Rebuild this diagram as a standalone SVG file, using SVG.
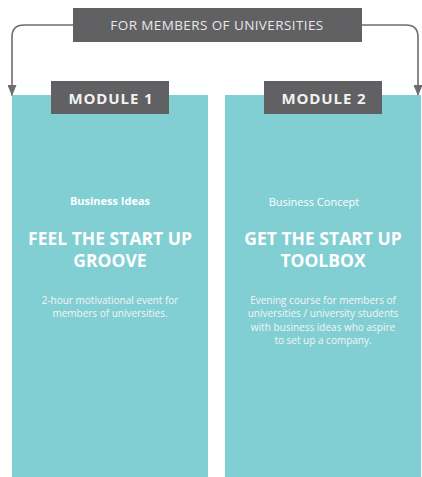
<svg xmlns="http://www.w3.org/2000/svg" width="422" height="477" viewBox="0 0 422 477">
  <defs>
    <style>
      .panel { fill: #82cfd3; }
      .tag { fill: #616163; }
      .conn { fill: none; stroke: #6d6d6f; stroke-width: 1.6; }
      .t { font-family: "Open Sans", "Liberation Sans", sans-serif; fill: #ffffff; text-anchor: middle; }
      .banner-t { font-size: 13.5px; letter-spacing: 0.4px; fill: #e8e8e8; }
      .mod-t { font-size: 15px; font-weight: bold; letter-spacing: 0.9px; fill: #f2f2f2; }
      .sub { font-size: 11px; }
      .title { font-size: 17.5px; font-weight: bold; }
      .body { font-size: 10px; fill: #f4f4f4; }
    </style>
    <marker id="arrow" viewBox="0 0 11 9" refX="11" refY="4.5" markerWidth="11" markerHeight="9" markerUnits="userSpaceOnUse" orient="auto">
      <path d="M0,0 L11,4.5 L0,9 Z" fill="#6d6d6f"/>
    </marker>
  </defs>

  <!-- connectors from the audience banner down to each module -->
  <g id="connectors">
    <path class="conn" d="M73,25 H24 Q12,25 12,37 V96" marker-end="url(#arrow)"/>
    <path class="conn" d="M362,25 H406 Q418,25 418,37 V96" marker-end="url(#arrow)"/>
  </g>

  <g id="audience">
    <rect class="tag" x="73" y="8" width="289" height="34"/>
    <text class="t banner-t" x="217" y="30">FOR MEMBERS OF UNIVERSITIES</text>
  </g>

  <g id="module1">
    <rect class="panel" x="12" y="95" width="196" height="382"/>
    <rect class="tag" x="51" y="81" width="118" height="33"/>
    <text class="t mod-t" x="111" y="103.5">MODULE 1</text>
    <text class="t sub" x="110" y="205" font-weight="bold">Business Ideas</text>
    <text class="t title" x="110" y="245">FEEL THE START UP</text>
    <text class="t title" x="110" y="266.5">GROOVE</text>
    <text class="t body" x="110" y="304">2-hour motivational event for</text>
    <text class="t body" x="110" y="317">members of universities.</text>
  </g>

  <g id="module2">
    <rect class="panel" x="225" y="95" width="196" height="382"/>
    <rect class="tag" x="264" y="81" width="118" height="33"/>
    <text class="t mod-t" x="324" y="103.5">MODULE 2</text>
    <text class="t sub" x="314" y="206">Business Concept</text>
    <text class="t title" x="323" y="245">GET THE START UP</text>
    <text class="t title" x="323" y="266.5">TOOLBOX</text>
    <text class="t body" x="323" y="304">Evening course for members of</text>
    <text class="t body" x="323" y="317.3">universities / university students</text>
    <text class="t body" x="323" y="330.6">with business ideas who aspire</text>
    <text class="t body" x="323" y="344">to set up a company.</text>
  </g>
</svg>
